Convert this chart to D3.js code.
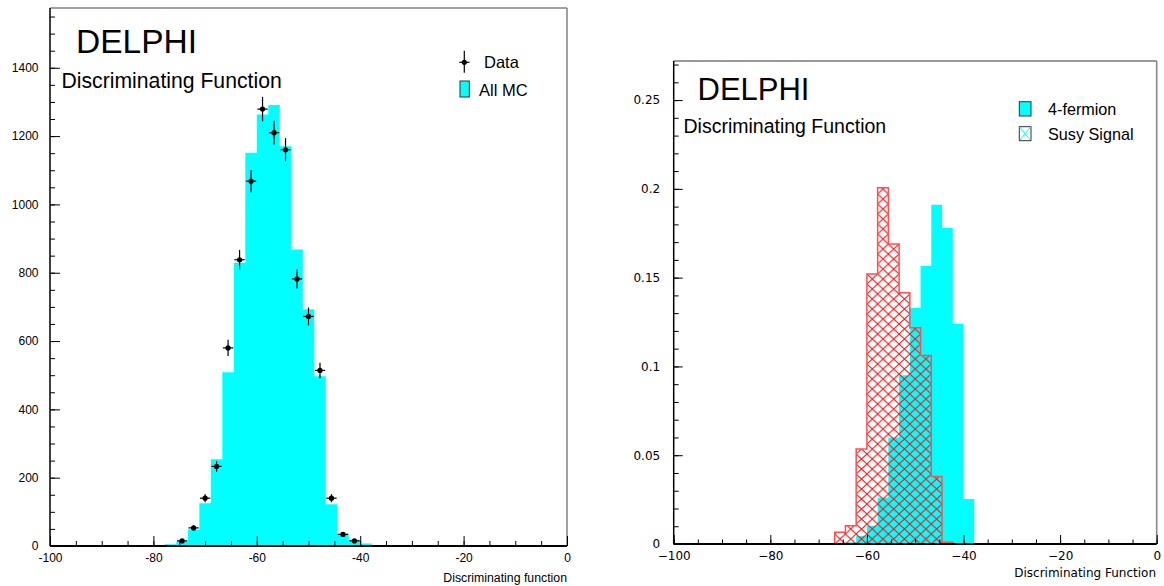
<!DOCTYPE html>
<html>
<head>
<meta charset="utf-8">
<script src="https://cdn.jsdelivr.net/npm/d3@7"></script>
<style>
  html, body { margin: 0; padding: 0; background: #fff; }
  svg { display: block; }
  text { fill: #000; }
</style>
</head>
<body>
<svg id="chart" width="1164" height="586"></svg>
<script>
// ---------------- DATA ----------------
const nBins = 45;            // histogram bins from -100 to 0
const xDomain = [-100, 0];

// Left panel: All MC (events per bin), bins 0..44
const mcCounts = [
  0,0,0,0,0,0,0,0,0,0,
  5,14,48,125,254,509,829,1151,1263,1291,
  1170,868,693,497,122,36,18,7,0,0,
  0,0,0,0,0,0,0,0,0,0,
  0,0,0,0,0
];
// Left panel: Data points, first bin index and counts
const dataFirstBin = 11;
const dataCounts = [15,53,140,233,580,838,1068,1279,1210,1160,782,672,514,140,34,15];

// Right panel: normalised distributions
const fermionFirstBin = 16;
const fermionValues = [0.001,0.0045,0.0103,0.026,0.060,0.095,0.133,0.1565,0.191,0.178,0.124,0.0253];
const susyFirstBin = 15;
const susyValues = [0.0066,0.0103,0.0535,0.152,0.2006,0.169,0.1415,0.1218,0.1062,0.038,0.001];

// Tick labels
const xTicks = [-100,-80,-60,-40,-20,0];
const xTickLabelsL = ["-100","-80","-60","-40","-20","0"];
const xTickLabelsR = ["\u2212100","\u221280","\u221260","\u221240","\u221220","0"];
const yTicksL = [0,200,400,600,800,1000,1200,1400];
const yTickLabelsL = ["0","200","400","600","800","1000","1200","1400"];
const yTicksR = [0,0.05,0.1,0.15,0.2,0.25];
const yTickLabelsR = ["0","0.05","0.1","0.15","0.2","0.25"];

// Texts
const expName = "DELPHI";
const subTitle = "Discriminating Function";
const xTitleL = "Discriminating function";
const xTitleR = "Discriminating Function";
const legendL = ["Data","All MC"];
const legendR = ["4-fermion","Susy Signal"];

// ---------------- DRAWING ----------------
const svg = d3.select("#chart");
const binW = (xDomain[1]-xDomain[0]) / nBins;
const edge = k => xDomain[0] + k*binW;
const CYAN = "#00ffff";
const SANS = "'Liberation Sans', Arial, Helvetica, sans-serif";
const DJV = "'DejaVu Sans', sans-serif";

function stepPoints(first, vals) {
  const pts = [];
  vals.forEach((v,i) => pts.push({x: edge(first+i), v}));
  pts.push({x: edge(first+vals.length), v: vals[vals.length-1]});
  return pts;
}

// ======= LEFT PANEL =======
const xL = d3.scaleLinear().domain(xDomain).range([50, 567]);
const yL = d3.scaleLinear().domain([0, 1575]).range([546, 8]);
const gL = svg.append("g");

// MC histogram
const mcPts = stepPoints(0, mcCounts);
gL.append("path")
  .datum(mcPts)
  .attr("fill", CYAN)
  .attr("d", d3.area().x(d=>xL(d.x)).y0(yL(0)).y1(d=>yL(d.v)).curve(d3.curveStepAfter));

// Frame (top and right)
gL.append("line").attr("x1",xL(-100)).attr("x2",xL(0)).attr("y1",yL.range()[1]).attr("y2",yL.range()[1])
  .attr("stroke","#444").attr("stroke-width",1.2);
gL.append("line").attr("x1",xL(0)).attr("x2",xL(0)).attr("y1",yL.range()[1]).attr("y2",yL(0))
  .attr("stroke","#888").attr("stroke-width",1.6);

// Data points
const dataPts = dataCounts.map((c,i) => ({x: edge(dataFirstBin+i)+binW/2, v: c}));
const gD = gL.append("g");
gD.selectAll("line.ev").data(dataPts).join("line").attr("class","ev")
  .attr("x1",d=>xL(d.x)).attr("x2",d=>xL(d.x))
  .attr("y1",d=>yL(d.v+Math.sqrt(d.v))).attr("y2",d=>yL(Math.max(0,d.v-Math.sqrt(d.v))))
  .attr("stroke","#000").attr("stroke-width",1.2);
gD.selectAll("line.eh").data(dataPts).join("line").attr("class","eh")
  .attr("x1",d=>xL(d.x-binW*0.45)).attr("x2",d=>xL(d.x+binW*0.45))
  .attr("y1",d=>yL(d.v)).attr("y2",d=>yL(d.v))
  .attr("stroke","#000").attr("stroke-width",1.2);
gD.selectAll("circle").data(dataPts).join("circle")
  .attr("cx",d=>xL(d.x)).attr("cy",d=>yL(d.v)).attr("r",2.6).attr("fill","#000");

// Axes
const axXL = gL.append("g").attr("transform",`translate(0,${yL(0)})`);
axXL.call(d3.axisBottom(xL).tickValues(d3.range(-100,1,5)).tickSize(-5).tickFormat(""))
  .call(g=>g.select(".domain").remove());
axXL.append("g").call(d3.axisBottom(xL).tickValues(xTicks).tickSize(-10)
    .tickFormat((d,i)=>xTickLabelsL[i]))
  .call(g=>g.select(".domain").remove())
  .call(g=>g.selectAll("text").attr("y",15.7).attr("dy",0).attr("font-family",SANS).attr("font-size",12).attr("fill","#000"));
axXL.selectAll("line").attr("stroke","#000");
gL.append("line").attr("x1",xL(-100)).attr("x2",xL(0)).attr("y1",yL(0)).attr("y2",yL(0))
  .attr("stroke","#000").attr("stroke-width",2);

const axYL = gL.append("g").attr("transform",`translate(${xL(-100)},0)`);
axYL.call(d3.axisLeft(yL).tickValues(d3.range(0,1575,50)).tickSize(-5).tickFormat(""))
  .call(g=>g.select(".domain").remove());
axYL.append("g").call(d3.axisLeft(yL).tickValues(yTicksL).tickSize(-10).tickPadding(11.5)
    .tickFormat((d,i)=>yTickLabelsL[i]))
  .call(g=>g.select(".domain").remove())
  .call(g=>g.selectAll("text").attr("font-family",SANS).attr("font-size",12).attr("fill","#000"));
axYL.selectAll("line").attr("stroke","#000");
gL.append("line").attr("x1",xL(-100)).attr("x2",xL(-100)).attr("y1",yL.range()[1]).attr("y2",yL(0))
  .attr("stroke","#000").attr("stroke-width",1.5);

gL.append("text").attr("x",567).attr("y",581.5).attr("text-anchor","end")
  .attr("font-family",SANS).attr("font-size",12.3).text(xTitleL);

// Titles
gL.append("text").attr("x",76).attr("y",52.7).attr("font-family",SANS).attr("font-size",33.5).text(expName);
gL.append("text").attr("x",61.5).attr("y",88.3).attr("font-family",SANS).attr("font-size",21.2).text(subTitle);

// Legend
const lgL = gL.append("g");
lgL.append("line").attr("x1",464.3).attr("x2",464.3).attr("y1",50.7).attr("y2",72.7).attr("stroke","#000").attr("stroke-width",1.2);
lgL.append("line").attr("x1",459.3).attr("x2",469.5).attr("y1",62.3).attr("y2",62.3).attr("stroke","#000").attr("stroke-width",1.2);
lgL.append("circle").attr("cx",464.3).attr("cy",62.3).attr("r",2.6).attr("fill","#000");
lgL.append("text").attr("x",484).attr("y",68.3).attr("font-family",SANS).attr("font-size",16.5).text(legendL[0]);
lgL.append("rect").attr("x",460).attr("y",81).attr("width",9.3).attr("height",16)
  .attr("fill",CYAN).attr("stroke","#333").attr("stroke-width",1);
lgL.append("text").attr("x",479).attr("y",95.7).attr("font-family",SANS).attr("font-size",16.5).text(legendL[1]);

// ======= RIGHT PANEL =======
const xR = d3.scaleLinear().domain(xDomain).range([673.7, 1156.7]);
const yR = d3.scaleLinear().domain([0, 0.272]).range([544, 61]);
const gR = svg.append("g");

const defs = svg.append("defs");
const pw = xR(edge(1))-xR(edge(0));
const pat = defs.append("pattern").attr("id","hatch").attr("patternUnits","userSpaceOnUse")
  .attr("x", xR(-100)).attr("y", yR(0)).attr("width", pw).attr("height", 10);
pat.append("path").attr("d",`M0,0 L${pw},10 M${pw},0 L0,10`).attr("stroke","#ff1010").attr("stroke-width",1).attr("fill","none");

// 4-fermion
const ferPts = stepPoints(fermionFirstBin, fermionValues);
gR.append("path").datum(ferPts).attr("fill",CYAN)
  .attr("d", d3.area().x(d=>xR(d.x)).y0(yR(0)).y1(d=>yR(d.v)).curve(d3.curveStepAfter));

// Susy signal (hatched)
const susPts = stepPoints(susyFirstBin, susyValues);
gR.append("path").datum(susPts).attr("fill","url(#hatch)")
  .attr("d", d3.area().x(d=>xR(d.x)).y0(yR(0)).y1(d=>yR(d.v)).curve(d3.curveStepAfter));
const outline = [{x: edge(susyFirstBin), v: 0}].concat(susPts).concat([{x: edge(susyFirstBin+susyValues.length), v: 0}]);
gR.append("path").datum(outline).attr("fill","none").attr("stroke","#ff5050").attr("stroke-width",1.5)
  .attr("d", d3.line().x(d=>xR(d.x)).y(d=>yR(d.v)).curve(d3.curveStepAfter));

// Frame
gR.append("line").attr("x1",xR(-100)).attr("x2",xR(0)).attr("y1",yR.range()[1]).attr("y2",yR.range()[1])
  .attr("stroke","#777").attr("stroke-width",1.5);
gR.append("line").attr("x1",xR(0)).attr("x2",xR(0)).attr("y1",yR.range()[1]).attr("y2",yR(0))
  .attr("stroke","#888").attr("stroke-width",1.6);

// Axes
const axXR = gR.append("g").attr("transform",`translate(0,${yR(0)})`);
axXR.call(d3.axisBottom(xR).tickValues(d3.range(-100,1,5)).tickSize(-4.5).tickFormat(""))
  .call(g=>g.select(".domain").remove());
axXR.append("g").call(d3.axisBottom(xR).tickValues(xTicks).tickSize(-9)
    .tickFormat((d,i)=>xTickLabelsR[i]))
  .call(g=>g.select(".domain").remove())
  .call(g=>g.selectAll("text").attr("y",16).attr("dy",0).attr("font-family",DJV).attr("font-size",12).attr("fill","#000"));
axXR.selectAll("line").attr("stroke","#000");
gR.append("line").attr("x1",xR(-100)).attr("x2",xR(0)).attr("y1",yR(0)).attr("y2",yR(0))
  .attr("stroke","#000").attr("stroke-width",2);

const axYR = gR.append("g").attr("transform",`translate(${xR(-100)},0)`);
axYR.call(d3.axisLeft(yR).tickValues(d3.range(0,0.2701,0.01)).tickSize(-5).tickFormat(""))
  .call(g=>g.select(".domain").remove());
axYR.append("g").call(d3.axisLeft(yR).tickValues(yTicksR).tickSize(-9).tickPadding(13.5)
    .tickFormat((d,i)=>yTickLabelsR[i]))
  .call(g=>g.select(".domain").remove())
  .call(g=>g.selectAll("text").attr("font-family",DJV).attr("font-size",12).attr("fill","#000"));
axYR.selectAll("line").attr("stroke","#000");
gR.append("line").attr("x1",xR(-100)).attr("x2",xR(-100)).attr("y1",yR.range()[1]).attr("y2",yR(0))
  .attr("stroke","#000").attr("stroke-width",1.5);

gR.append("text").attr("x",1156).attr("y",576.7).attr("text-anchor","end")
  .attr("font-family",DJV).attr("font-size",12).text(xTitleR);

// Titles
gR.append("text").attr("x",697.5).attr("y",100).attr("font-family",SANS).attr("font-size",31).text(expName);
gR.append("text").attr("x",683.5).attr("y",132.7).attr("font-family",SANS).attr("font-size",19.5).text(subTitle);

// Legend
const lgR = gR.append("g");
lgR.append("rect").attr("x",1019.3).attr("y",101.7).attr("width",11.7).attr("height",14.3)
  .attr("fill",CYAN).attr("stroke","#333").attr("stroke-width",1);
lgR.append("text").attr("x",1048).attr("y",115).attr("font-family",SANS).attr("font-size",16.2).text(legendR[0]);
lgR.append("rect").attr("x",1019.3).attr("y",126.7).attr("width",11.7).attr("height",14)
  .attr("fill","#fff").attr("stroke","#333").attr("stroke-width",1);
lgR.append("path").attr("d","M1019.8,127.2 L1030.5,140.2 M1030.5,127.2 L1019.8,140.2")
  .attr("stroke",CYAN).attr("stroke-width",1).attr("fill","none");
lgR.append("text").attr("x",1048).attr("y",140).attr("font-family",SANS).attr("font-size",16.2).text(legendR[1]);
</script>
</body>
</html>
